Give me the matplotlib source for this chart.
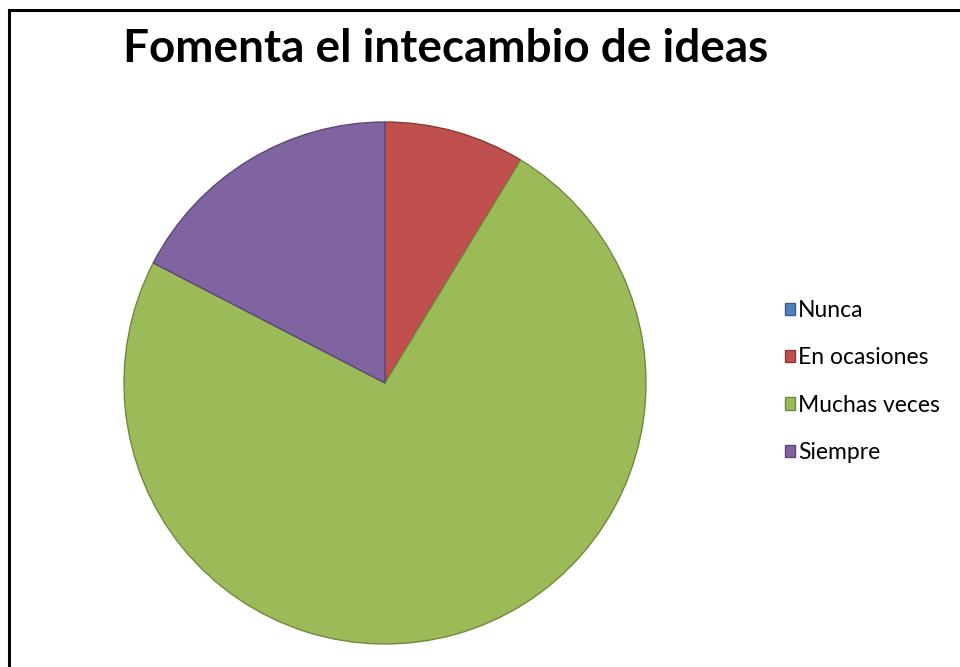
import matplotlib
matplotlib.use("Agg")
import matplotlib.pyplot as plt
from matplotlib.patches import Rectangle

labels = ["Nunca", "En ocasiones", "Muchas veces", "Siempre"]
values = [0, 2, 17, 4]
colors = ["#4F81BD", "#C0504D", "#9BBB59", "#8064A2"]
edges = ["#385D8A", "#8C3836", "#71893F", "#5C4776"]
title = "Fomenta el intecambio de ideas"

plt.rcParams['font.family'] = ['Lato', 'DejaVu Sans']

W, H = 960, 667
fig = plt.figure(figsize=(W/100, H/100), dpi=100)
fig.patch.set_facecolor("white")

# outer border
fig.add_artist(Rectangle((9/W, -0.05), 1.2, (H-10)/H + 0.05, transform=fig.transFigure,
                         fill=False, edgecolor="black", linewidth=2.2))

cx, cy, r = 385, 383, 261
ax = fig.add_axes([(cx - r)/W, (H - cy - r)/H, 2*r/W, 2*r/H])
wedges, _ = ax.pie(values, colors=colors, startangle=90, counterclock=False,
                   wedgeprops=dict(linewidth=1.0), radius=1.0)
for w, e in zip(wedges, edges):
    w.set_edgecolor(e)
ax.set_xlim(-1.0, 1.0)
ax.set_ylim(-1.0, 1.0)
ax.set_aspect("equal")
ax.axis("off")

fig.text(446/W, 1 - 49/H, title, ha="center", va="center", fontsize=33, fontweight="bold")

leg = fig.legend(wedges, labels, loc="upper left", bbox_to_anchor=(785/W, 1 - 300/H),
                 frameon=False, fontsize=16.5, handlelength=0.45, handleheight=0.45,
                 handletextpad=0.12, labelspacing=1.15, borderpad=0, borderaxespad=0)

fig.savefig("out.png", dpi=100)
